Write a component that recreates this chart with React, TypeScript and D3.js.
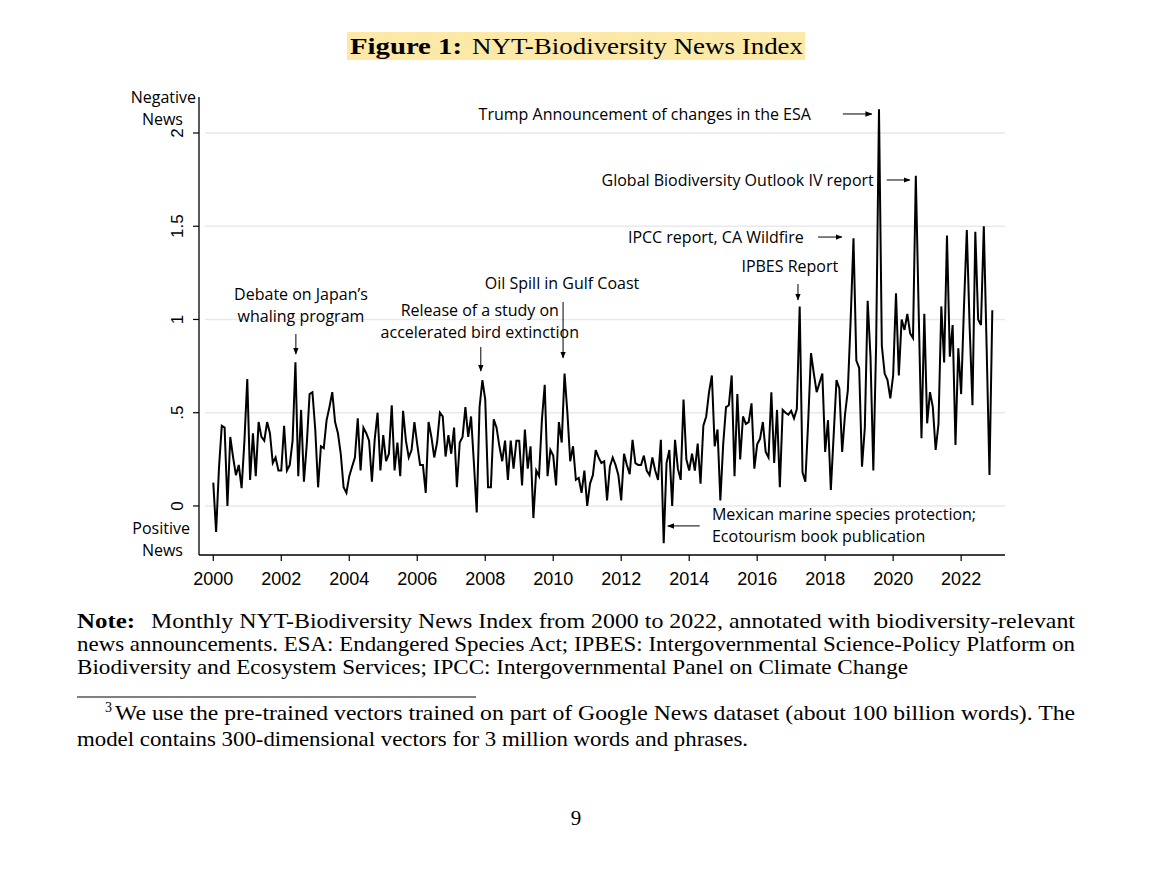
import React from 'react';
import * as d3 from 'd3';

// Monthly index, Jan 2000 onwards
const values: number[] = [
  0.125, -0.14, 0.2, 0.43, 0.42, 0.0, 0.37, 0.26, 0.165, 0.22, 0.095, 0.35,
  0.68, 0.14, 0.39, 0.16, 0.45, 0.37, 0.35, 0.45, 0.39, 0.23, 0.26, 0.19,
  0.19, 0.43, 0.19, 0.22, 0.35, 0.77, 0.16, 0.515, 0.13, 0.33, 0.6, 0.61,
  0.41, 0.1, 0.32, 0.31, 0.46, 0.53, 0.61, 0.45, 0.39, 0.28, 0.1, 0.07,
  0.16, 0.21, 0.26, 0.47, 0.19, 0.42, 0.39, 0.35, 0.13, 0.36, 0.5, 0.19,
  0.38, 0.24, 0.28, 0.54, 0.19, 0.34, 0.16, 0.51, 0.35, 0.26, 0.3, 0.45,
  0.33, 0.22, 0.22, 0.07, 0.45, 0.37, 0.26, 0.34, 0.5, 0.48, 0.265, 0.38,
  0.28, 0.42, 0.1, 0.34, 0.37, 0.53, 0.37, 0.48, 0.23, -0.035, 0.53, 0.675,
  0.57, 0.1, 0.1, 0.465, 0.42, 0.32, 0.24, 0.35, 0.14, 0.35, 0.2, 0.35,
  0.35, 0.11, 0.41, 0.2, 0.32, -0.065, 0.19, 0.16, 0.46, 0.65, 0.16, 0.3,
  0.27, 0.11, 0.45, 0.34, 0.71, 0.5, 0.24, 0.32, 0.14, 0.15, 0.07, 0.19,
  0.0, 0.12, 0.165, 0.3, 0.26, 0.23, 0.24, 0.03, 0.21, 0.26, 0.22, 0.165,
  0.03, 0.28, 0.22, 0.17, 0.355, 0.23, 0.22, 0.22, 0.27, 0.19, 0.165, 0.26,
  0.19, 0.14, 0.355, -0.2, 0.23, 0.3, 0.0, 0.355, 0.2, 0.14, 0.57, 0.25,
  0.19, 0.28, 0.19, 0.335, 0.12, 0.43, 0.48, 0.61, 0.7, 0.32, 0.41, 0.03,
  0.33, 0.53, 0.54, 0.7, 0.16, 0.6, 0.25, 0.48, 0.44, 0.45, 0.55, 0.2, 0.33,
  0.36, 0.45, 0.29, 0.26, 0.61, 0.23, 0.515, 0.1, 0.515, 0.5, 0.49, 0.51,
  0.47, 0.52, 1.07, 0.18, 0.13, 0.45, 0.82, 0.71, 0.61, 0.66, 0.71, 0.29,
  0.46, 0.086, 0.38, 0.675, 0.63, 0.29, 0.49, 0.62, 1.0, 1.435, 0.78, 0.74,
  0.21, 0.42, 1.1, 0.8, 0.19, 0.87, 2.127, 0.86, 0.71, 0.675, 0.577, 0.7,
  1.14, 0.7, 1.0, 0.944, 1.03, 0.925, 0.9, 1.77, 1.05, 0.363, 1.03, 0.443,
  0.61, 0.53, 0.3, 0.44, 1.07, 0.77, 1.45, 0.8, 0.97, 0.327, 0.845, 0.6,
  1.07, 1.48, 0.96, 0.54, 1.47, 1.0, 0.97, 1.5, 0.85, 0.166, 1.05,
];

const xTicks = [2000, 2002, 2004, 2006, 2008, 2010, 2012, 2014, 2016, 2018, 2020, 2022];
const yTicks = [0, 0.5, 1, 1.5, 2];
const yTickLabels = ['0', '.5', '1', '1.5', '2'];

type Note = {
  lines: string[];
  x: number; // year
  y: number; // value of first baseline
  anchor: 'start' | 'middle' | 'end';
  arrow: [number, number, number, number]; // year, value -> year, value
};

const annotations: Note[] = [
  { lines: ['Trump Announcement of changes in the ESA'], x: 2017.58, y: 2.07, anchor: 'end', arrow: [2018.52, 2.102, 2019.37, 2.102] },
  { lines: ['Global Biodiversity Outlook IV report'], x: 2019.43, y: 1.716, anchor: 'end', arrow: [2019.81, 1.748, 2020.49, 1.748] },
  { lines: ['IPCC report, CA Wildfire'], x: 2017.37, y: 1.41, anchor: 'end', arrow: [2017.79, 1.442, 2018.49, 1.442] },
  { lines: ['IPBES Report'], x: 2016.96, y: 1.255, anchor: 'middle', arrow: [2017.2, 1.19, 2017.2, 1.105] },
  { lines: ['Oil Spill in Gulf Coast'], x: 2010.26, y: 1.164, anchor: 'middle', arrow: [2010.29, 1.094, 2010.29, 0.794] },
  { lines: ['Release of a study on', 'accelerated bird extinction'], x: 2007.84, y: 1.019, anchor: 'middle', arrow: [2007.87, 0.853, 2007.87, 0.724] },
  { lines: ["Debate on Japan\u2019s", 'whaling program'], x: 2002.58, y: 1.105, anchor: 'middle', arrow: [2002.43, 0.922, 2002.43, 0.815] },
  { lines: ['Mexican marine species protection;', 'Ecotourism book publication'], x: 2014.67, y: -0.075, anchor: 'start', arrow: [2014.31, -0.107, 2013.37, -0.107] },
];

const W = 1152;
const H = 874;
const sans = '"Open Sans", "Liberation Sans", sans-serif';
const serif = '"Liberation Serif", "DejaVu Serif", serif';

export default function App() {
  const x = d3.scaleLinear().domain([1999.58, 2023.29]).range([199, 1005]);
  const y = d3.scaleLinear().domain([-0.263, 2.193]).range([555, 97]);

  const line = d3
    .line<number>()
    .x((_, i) => x(2000 + i / 12))
    .y(d => y(d));

  return (
    <svg width={W} height={H} style={{ position: 'absolute', left: 0, top: 0, background: '#fff' }}>
      <defs>
        <marker id="ah" viewBox="0 0 10 10" refX="9" refY="5" markerWidth="7" markerHeight="7" orient="auto">
          <path d="M0,1 L10,5 L0,9 z" fill="#000" />
        </marker>
      </defs>

      {/* title */}
      <rect x={347} y={32} width={458} height={28} fill="#fce9a8" />
      <text x={350} y={54} fontFamily={serif} fontSize={24} fontWeight="bold" textLength={112} lengthAdjust="spacingAndGlyphs">Figure 1:</text>
      <text x={472} y={54} fontFamily={serif} fontSize={24} textLength={331} lengthAdjust="spacingAndGlyphs">NYT-Biodiversity News Index</text>

      {/* grid */}
      {yTicks.map(t => (
        <line key={t} x1={205} x2={1005} y1={y(t)} y2={y(t)} stroke="#e9e9e9" strokeWidth={1.6} />
      ))}

      {/* axes */}
      <line x1={199} x2={199} y1={97} y2={555} stroke="#000" strokeWidth={1.3} />
      <line x1={199} x2={1005} y1={555} y2={555} stroke="#000" strokeWidth={1.3} />
      {yTicks.map((t, i) => (
        <g key={t}>
          <line x1={193} x2={199} y1={y(t)} y2={y(t)} stroke="#000" strokeWidth={1.2} />
          <text
            transform={`translate(183,${y(t)}) rotate(-90)`}
            textAnchor="middle"
            fontFamily='"Liberation Sans", sans-serif'
            fontSize={17}
          >
            {yTickLabels[i]}
          </text>
        </g>
      ))}
      {xTicks.map(t => (
        <g key={t}>
          <line x1={x(t)} x2={x(t)} y1={555} y2={561} stroke="#000" strokeWidth={1.2} />
          <text x={x(t)} y={585} textAnchor="middle" fontFamily='"Liberation Sans Narrow", "Liberation Sans", sans-serif' fontSize={18}>
            {t}
          </text>
        </g>
      ))}

      <g fontFamily={sans} fontSize={16} textAnchor="end">
        <text x={196} y={103}>Negative</text>
        <text x={183} y={125}>News</text>
        <text x={190} y={534}>Positive</text>
        <text x={183} y={556}>News</text>
      </g>

      {/* series */}
      <path d={line(values) ?? ''} fill="none" stroke="#000" strokeWidth={2} strokeLinejoin="miter" />

      {/* annotations */}
      {annotations.map((a, i) => (
        <g key={i}>
          {a.lines.map((l, j) => (
            <text key={j} x={x(a.x)} y={y(a.y) + j * 22} textAnchor={a.anchor} fontFamily={sans} fontSize={16}>
              {l}
            </text>
          ))}
          <line
            x1={x(a.arrow[0])}
            y1={y(a.arrow[1])}
            x2={x(a.arrow[2])}
            y2={y(a.arrow[3])}
            stroke="#000"
            strokeWidth={1}
            markerEnd="url(#ah)"
          />
        </g>
      ))}

      {/* note */}
      <g fontFamily={serif} fontSize={21}>
        <text x={77} y={628} fontWeight="bold" textLength={58} lengthAdjust="spacingAndGlyphs">Note:</text>
        <text x={151} y={628} textLength={924} lengthAdjust="spacingAndGlyphs">
          Monthly NYT-Biodiversity News Index from 2000 to 2022, annotated with biodiversity-relevant
        </text>
        <text x={77} y={651} textLength={998} lengthAdjust="spacingAndGlyphs">
          news announcements. ESA: Endangered Species Act; IPBES: Intergovernmental Science-Policy Platform on
        </text>
        <text x={77} y={674} textLength={831} lengthAdjust="spacingAndGlyphs">
          Biodiversity and Ecosystem Services; IPCC: Intergovernmental Panel on Climate Change
        </text>

        <line x1={77} x2={476} y1={697} y2={697} stroke="#000" strokeWidth={1} />
        <text x={105} y={712} fontSize={14}>3</text>
        <text x={115} y={720} textLength={960} lengthAdjust="spacingAndGlyphs">
          We use the pre-trained vectors trained on part of Google News dataset (about 100 billion words). The
        </text>
        <text x={77} y={746} textLength={671} lengthAdjust="spacingAndGlyphs">
          model contains 300-dimensional vectors for 3 million words and phrases.
        </text>
        <text x={576} y={825} textAnchor="middle">9</text>
      </g>
    </svg>
  );
}
